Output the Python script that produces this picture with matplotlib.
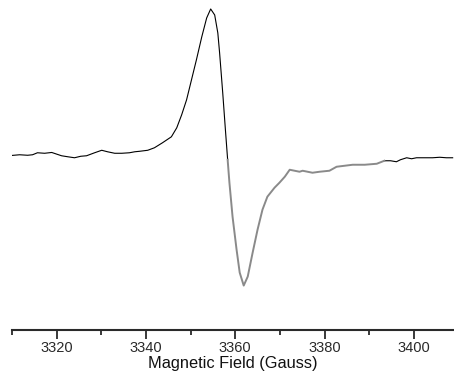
import numpy as np
import matplotlib.pyplot as plt
from matplotlib.ticker import MultipleLocator

plt.rcParams['font.family'] = ['Liberation Sans', 'DejaVu Sans']

# EPR derivative spectrum
field = [3309.9, 3311.7, 3313.5, 3314.6, 3315.7, 3317.3, 3318.9, 3321.1, 3322.5, 3324.0,
         3325.4, 3326.7, 3328.5, 3330.1, 3331.4, 3333.0, 3334.6, 3336.3, 3337.5, 3338.6,
         3340.4, 3341.9, 3343.7, 3345.7, 3346.9, 3348.0, 3349.1, 3350.2, 3351.3, 3352.5,
         3353.6, 3354.5, 3355.4, 3356.1, 3356.5, 3357.2, 3357.8, 3358.3,
         3358.7, 3359.4, 3360.3, 3361.0, 3361.9, 3362.8, 3363.9, 3365.0, 3366.1, 3367.2,
         3368.8, 3369.9, 3371.1, 3372.2, 3373.3, 3374.4, 3375.1,
         3376.2, 3377.3, 3378.9, 3381.1, 3382.7, 3384.5, 3386.3, 3389.0, 3391.7, 3393.4,
         3394.8, 3396.1, 3397.0, 3398.4, 3399.5, 3400.6, 3402.4, 3404.2, 3405.8, 3407.3,
         3408.7]
signal = [-0.7, 0, -0.5, 0, 2, 1.5, 2.3, -1, -2, -3,
          -1.5, -1, 2, 4.5, 3, 1.5, 1.5, 2, 3, 3.5,
          4.5, 7, 12, 18, 27, 40, 55, 75, 95, 118,
          137, 146, 140, 122, 102, 62, 25, -5,
          -28, -62, -95, -118, -131, -122, -98, -75, -55, -42,
          -33, -28, -22, -15, -16, -17, -16,
          -17, -18, -17, -16, -12, -11, -10, -10, -9, -6,
          -6, -7, -5, -3, -4, -3, -3, -3, -2.5, -3,
          -3]

field = np.array(field)
signal = np.array(signal)
mid = (field >= 3358.3) & (field <= 3393.4)

fig = plt.figure(figsize=(4.54, 3.82), dpi=100)
ax = fig.add_axes([12 / 454, 52.5 / 382, 442 / 454, 329.5 / 382])

# black trace with the second scan overlaid in grey
ax.plot(field[field <= 3358.3], signal[field <= 3358.3], color='black', lw=0.8)
ax.plot(field[field >= 3393.4], signal[field >= 3393.4], color='black', lw=0.8)
ax.plot(field[mid], signal[mid], color='#8a8a8a', lw=1.4)

ax.set_xlim(3310, 3409)
ax.set_ylim(-175, 155)

for s in ['left', 'right', 'top']:
    ax.spines[s].set_visible(False)
ax.spines['bottom'].set_linewidth(1.5)
ax.spines['bottom'].set_color('#2a2a2a')

ax.set_yticks([])
ax.xaxis.set_major_locator(MultipleLocator(20))
ax.xaxis.set_minor_locator(MultipleLocator(10))
ax.tick_params(axis='x', which='major', length=6.5, width=1.3, color='#2a2a2a',
               labelsize=10.5, pad=2, labelcolor='#2a2a2a')
ax.tick_params(axis='x', which='minor', length=3.5, width=1.3, color='#2a2a2a')
ax.set_xlabel('Magnetic Field (Gauss)', fontsize=11.8, labelpad=0.5, color='#111111')

fig.savefig('out.png', dpi=100)
